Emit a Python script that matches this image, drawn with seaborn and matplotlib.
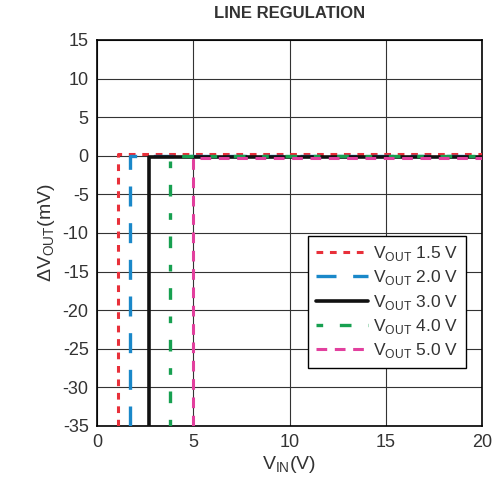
import matplotlib
matplotlib.use("Agg")
import matplotlib.pyplot as plt
import seaborn as sns
import pandas as pd

sns.set_theme(style="white")
plt.rcParams['font.family'] = ['Liberation Sans', 'DejaVu Sans']
plt.rcParams['axes.unicode_minus'] = False

labels = ["V$_{\\mathregular{OUT}}$ 1.5 V", "V$_{\\mathregular{OUT}}$ 2.0 V", "V$_{\\mathregular{OUT}}$ 3.0 V",
          "V$_{\\mathregular{OUT}}$ 4.0 V", "V$_{\\mathregular{OUT}}$ 5.0 V"]
vin_15 = [1.1, 1.1, 20]
dv_15 = [-35, 0.2, 0.2]
vin_20 = [1.7, 1.7, 20]
dv_20 = [-35, 0.0, 0.0]
vin_30 = [2.7, 2.7, 20]
dv_30 = [-35, -0.1, -0.1]
vin_40 = [3.8, 3.8, 20]
dv_40 = [-35, 0.0, 0.0]
vin_50 = [5.0, 5.0, 20]
dv_50 = [-35, -0.25, -0.25]

series = [(vin_15, dv_15), (vin_20, dv_20), (vin_30, dv_30), (vin_40, dv_40), (vin_50, dv_50)]
colors = ["#e8303a", "#1a88c9", "#111111", "#17a050", "#e2409e"]
styles = [(0, (2.2, 2.2)), (0, (6, 5)), "-", (0, (2, 5, 3.5, 5)), (0, (3.5, 2.5))]
widths = [2.2, 2.4, 2.6, 2.4, 2.2]

frames = []
for lab, (x, y) in zip(labels, series):
    frames.append(pd.DataFrame({"VIN": x, "dV": y, "series": lab, "order": range(len(x))}))
df = pd.concat(frames, ignore_index=True)

fig = plt.figure(figsize=(4.95, 4.84), dpi=100)
ax = fig.add_axes([97/495, 1-426/484, 385/495, 386/484])

for i, lab in enumerate(labels):
    sub = df[df["series"] == lab]
    sns.lineplot(data=sub, x="VIN", y="dV", sort=False, ax=ax, color=colors[i],
                 linestyle=styles[i], linewidth=widths[i], label=lab, estimator=None, zorder=3 + i)

ax.set_xlim(0, 20)
ax.set_ylim(-35, 15)
ax.set_xticks(range(0, 21, 5))
ax.set_yticks(range(-35, 16, 5))
ax.grid(True, color="#333333", linewidth=0.8)
for s in ax.spines.values():
    s.set_color("black")
    s.set_linewidth(1.2)
ax.tick_params(labelsize=13, colors="#333333", length=0, pad=6)
ax.set_xlabel("V$_{\\mathregular{IN}}$(V)", fontsize=14, color="#333333", labelpad=2)
ax.set_ylabel("ΔV$_{\\mathregular{OUT}}$(mV)", fontsize=14, color="#333333", labelpad=4)
ax.set_title("LINE REGULATION", fontsize=12, fontweight="bold", color="#333333", pad=16)

leg = ax.legend(loc="lower left", bbox_to_anchor=(0.525, 0.128), fontsize=12.5, frameon=True,
                fancybox=False, edgecolor="black", framealpha=1, handlelength=3.0,
                handletextpad=0.3, labelspacing=0.3, borderpad=0.45)
leg.get_frame().set_linewidth(1.0)
for t in leg.get_texts():
    t.set_color("#333333")

fig.savefig("out.png", dpi=100)
